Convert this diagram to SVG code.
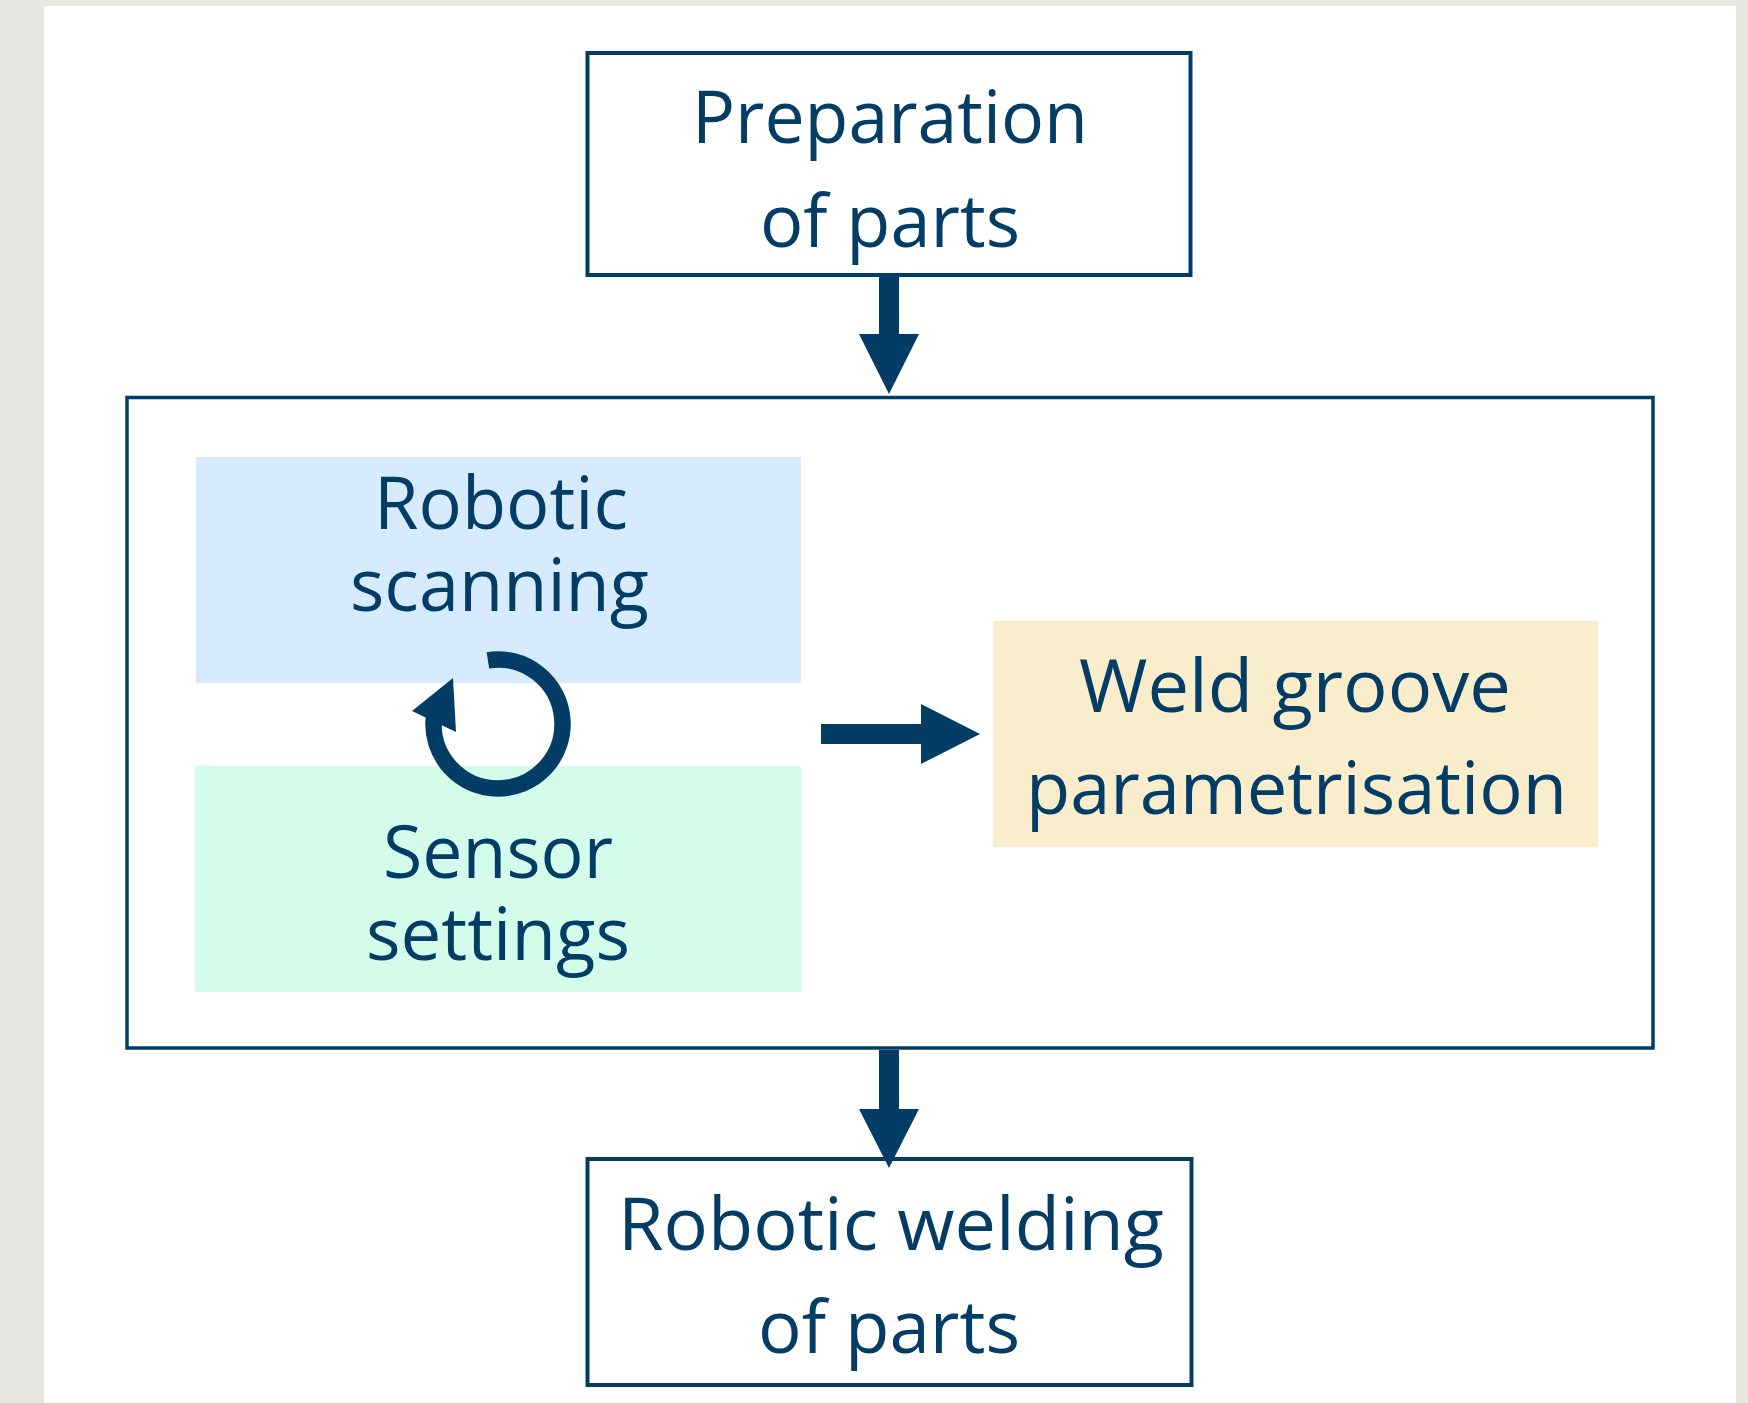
<svg xmlns="http://www.w3.org/2000/svg" width="1748" height="1403" viewBox="0 0 1748 1403">
  <style>
    .frame { fill: #ffffff; stroke: #033c65; }
    .lbl { font-family: "Open Sans", "Noto Sans", "DejaVu Sans", sans-serif; font-size: 73px; fill: #033c65; text-anchor: middle; }
    .ink { fill: #033c65; }
  </style>

  <!-- page background -->
  <rect x="0" y="0" width="1748" height="1403" fill="#e8e8e2"/>
  <rect x="44" y="6" width="1692" height="1397" fill="#ffffff"/>

  <!-- outer process container -->
  <g id="analysis-stage">
    <rect class="frame" x="127" y="397.5" width="1526" height="650.5" stroke-width="3.5"/>
  </g>

  <g id="preparation">
    <rect class="frame" x="587.5" y="53" width="603" height="222" stroke-width="4"/>
    <text class="lbl" x="890" y="143" textLength="396" lengthAdjust="spacingAndGlyphs">Preparation</text>
    <text class="lbl" x="890" y="247" textLength="260" lengthAdjust="spacingAndGlyphs">of parts</text>
  </g>

  <g id="robotic-scanning">
    <rect x="196" y="457" width="605" height="226" fill="#d6ecfe"/>
    <text class="lbl" x="501" y="529" textLength="254" lengthAdjust="spacingAndGlyphs">Robotic</text>
    <text class="lbl" x="499.5" y="611" textLength="299" lengthAdjust="spacingAndGlyphs">scanning</text>
  </g>

  <g id="sensor-settings">
    <rect x="195" y="766" width="606" height="226" fill="#d3fdea"/>
    <text class="lbl" x="498" y="878" textLength="230" lengthAdjust="spacingAndGlyphs">Sensor</text>
    <text class="lbl" x="498" y="960" textLength="264" lengthAdjust="spacingAndGlyphs">settings</text>
  </g>

  <g id="weld-groove">
    <rect x="993" y="621" width="605" height="226" fill="#f9edcb"/>
    <text class="lbl" x="1295" y="712" textLength="432" lengthAdjust="spacingAndGlyphs">Weld groove</text>
    <text class="lbl" x="1296.5" y="814" textLength="541" lengthAdjust="spacingAndGlyphs">parametrisation</text>
  </g>

  <g id="robotic-welding">
    <rect class="frame" x="587.5" y="1159" width="604" height="226" stroke-width="4"/>
    <text class="lbl" x="891" y="1250" textLength="546" lengthAdjust="spacingAndGlyphs">Robotic welding</text>
    <text class="lbl" x="889" y="1353" textLength="262" lengthAdjust="spacingAndGlyphs">of parts</text>
  </g>

  <!-- connectors -->
  <g id="connectors">
    <!-- preparation to analysis stage -->
    <polygon class="ink" points="879,277 899,277 899,334 919,334 889,394 859,334 879,334"/>
    <!-- analysis stage to welding -->
    <polygon class="ink" points="879,1050 899,1050 899,1109 919,1109 889,1168 859,1109 879,1109"/>
    <!-- scanning / settings to groove parametrisation -->
    <polygon class="ink" points="821,724 921,724 921,704 980,734 921,764 921,744 821,744"/>
    <!-- iterative loop between scanning and sensor settings -->
    <path d="M 487.9 660.3 A 64.5 64.5 0 1 1 433.75 718.4" fill="none" stroke="#033c65" stroke-width="16.5"/>
    <polygon class="ink" points="412,711 453,678 456,732"/>
  </g>
</svg>
